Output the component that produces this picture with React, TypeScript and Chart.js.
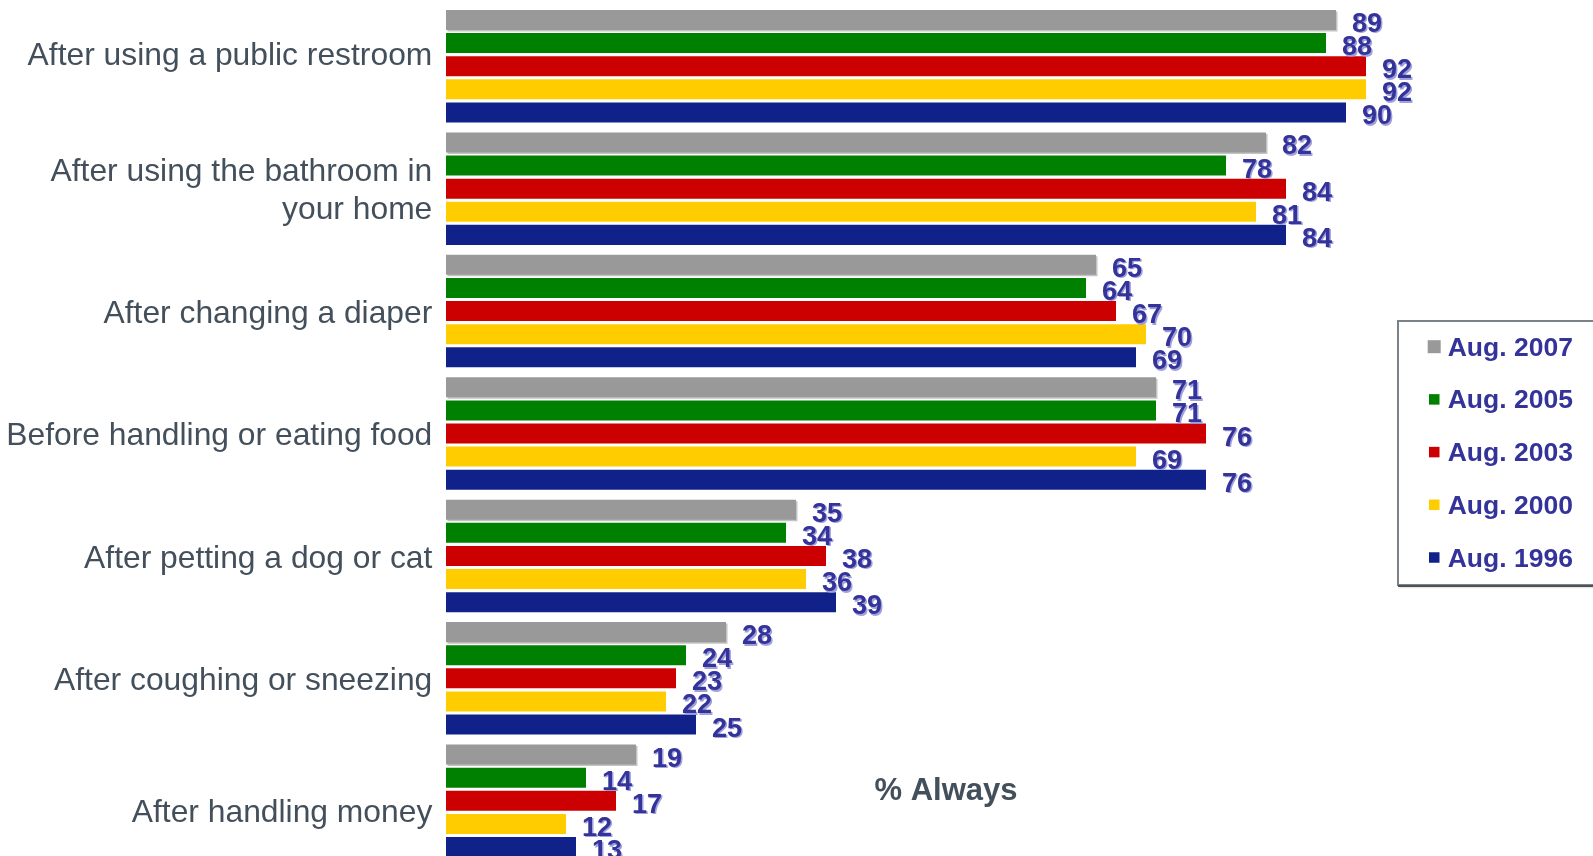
import React, { useEffect, useRef } from "react";
import { Chart, registerables } from "chart.js";

Chart.register(...registerables);

const categories: (string | string[])[] = [
  "After using a public restroom",
  ["After using the bathroom in", "your home"],
  "After changing a diaper",
  "Before handling or eating food",
  "After petting a dog or cat",
  "After coughing or sneezing",
  "After handling money",
];

const seriesNames = ["Aug. 2007", "Aug. 2005", "Aug. 2003", "Aug. 2000", "Aug. 1996"];
const seriesColors = ["#999999", "#008000", "#CC0000", "#FFCC00", "#10228A"];

const aug2007 = [89, 82, 65, 71, 35, 28, 19];
const aug2005 = [88, 78, 64, 71, 34, 24, 14];
const aug2003 = [92, 84, 67, 76, 38, 23, 17];
const aug2000 = [92, 81, 70, 69, 36, 22, 12];
const aug1996 = [90, 84, 69, 76, 39, 25, 13];

const seriesValues = [aug2007, aug2005, aug2003, aug2000, aug1996];

const axisTitle = "% Always";

const labelColor = "#333399";
const textGray = "#434f5b";
const FONT = "'Liberation Sans', Arial, sans-serif";
const TICK_SIZE = 31.8;

const grayShadowPlugin = {
  id: "grayShadow",
  beforeDatasetDraw(chart: any, args: any) {
    if (args.index === 0) {
      const ctx = chart.ctx;
      ctx.save();
      ctx.shadowColor = "rgba(195,195,195,1)";
      ctx.shadowOffsetX = 1.5;
      ctx.shadowOffsetY = 1.5;
      ctx.shadowBlur = 0;
    }
  },
  afterDatasetDraw(chart: any, args: any) {
    if (args.index === 0) chart.ctx.restore();
  },
};

const valueLabelPlugin = {
  id: "valueLabels",
  afterDatasetsDraw(chart: any) {
    const ctx = chart.ctx;
    ctx.save();
    ctx.font = `bold 27px ${FONT}`;
    ctx.textAlign = "left";
    ctx.textBaseline = "alphabetic";
    chart.data.datasets.forEach((ds: any, di: number) => {
      const meta = chart.getDatasetMeta(di);
      meta.data.forEach((bar: any, i: number) => {
        ctx.shadowColor = "rgba(150,150,215,0.9)";
        ctx.shadowOffsetX = 1.5;
        ctx.shadowOffsetY = 1.5;
        ctx.shadowBlur = 0.5;
        ctx.fillStyle = labelColor;
        ctx.fillText(String(ds.data[i]), bar.x + 16, bar.y + 12);
      });
    });
    ctx.restore();
  },
};

const extrasPlugin = {
  id: "extras",
  afterDraw(chart: any) {
    const ctx = chart.ctx;
    const xs = chart.scales.x;
    ctx.save();
    ctx.font = `bold 31px ${FONT}`;
    ctx.fillStyle = textGray;
    ctx.textAlign = "center";
    ctx.textBaseline = "alphabetic";
    ctx.fillText(axisTitle, xs.getPixelForValue(50), 800);

    // legend box
    const bx = 1398;
    const by = 321;
    const bw = 260;
    const bh = 264;
    ctx.fillStyle = "#ffffff";
    ctx.shadowColor = "rgba(0,0,0,0.35)";
    ctx.shadowOffsetX = 1;
    ctx.shadowOffsetY = 2;
    ctx.shadowBlur = 2;
    ctx.fillRect(bx, by, bw, bh);
    ctx.shadowColor = "transparent";
    ctx.strokeStyle = "#7a828a";
    ctx.lineWidth = 2;
    ctx.strokeRect(bx, by, bw, bh);
    ctx.strokeStyle = "#4a525a";
    ctx.lineWidth = 2;
    ctx.beginPath();
    ctx.moveTo(bx, by + bh + 1);
    ctx.lineTo(bx + bw, by + bh + 1);
    ctx.stroke();

    ctx.font = `bold 26.5px ${FONT}`;
    ctx.textAlign = "left";
    ctx.textBaseline = "alphabetic";
    chart.data.datasets.forEach((ds: any, i: number) => {
      const y = 346.7 + i * 52.7;
      const sz = i === 0 ? 13 : 10.5;
      const sx = i === 0 ? 1427.7 : 1429;
      ctx.fillStyle = ds.backgroundColor;
      ctx.fillRect(sx, y - sz / 2, sz, sz);
      ctx.fillStyle = labelColor;
      ctx.fillText(ds.label, 1447.7, y + 9);
    });
    ctx.restore();
  },
};

export default function App() {
  const ref = useRef<HTMLCanvasElement | null>(null);
  useEffect(() => {
    if (!ref.current) return;
    const W = 1593;
    const canvas = ref.current;
    const lastIdx = categories.length - 1;
    const chart = new Chart(canvas, {
      type: "bar",
      data: {
        labels: categories,
        datasets: seriesNames.map((name, i) => ({
          label: name,
          data: seriesValues[i],
          backgroundColor: seriesColors[i],
          borderWidth: 0,
          categoryPercentage: 0.944,
          barPercentage: 0.866,
        })),
      },
      options: {
        indexAxis: "y",
        responsive: false,
        maintainAspectRatio: false,
        animation: false,
        layout: { padding: { top: 5, bottom: 0, left: 0, right: W - 1446 } },
        plugins: {
          legend: { display: false },
          tooltip: { enabled: false },
          title: { display: false },
        },
        scales: {
          x: {
            display: false,
            min: 0,
            max: 100,
          },
          y: {
            afterFit: (sc: any) => {
              sc.width = 446;
              sc.paddingTop = 0;
              sc.paddingBottom = 0;
            },
            border: { display: false },
            grid: { display: false, drawTicks: false },
            ticks: {
              padding: 13.7,
              labelOffset: 3,
              color: textGray,
              callback: (_v: any, i: number) => {
                const c = categories[i];
                if (i === 0) return [c as string, ""];
                if (i === lastIdx) return ["", c as string];
                return c;
              },
              font: (ctx: any) => ({
                family: FONT,
                size: TICK_SIZE,
                lineHeight: ctx.index === 0 ? 26 / TICK_SIZE : ctx.index === lastIdx ? 18 / TICK_SIZE : 1.2,
              }),
            },
          },
        },
      },
      plugins: [grayShadowPlugin, valueLabelPlugin, extrasPlugin],
    });
    return () => chart.destroy();
  }, []);
  return (
    <div style={{ position: "fixed", left: 0, top: 0, width: 1593, height: 856, background: "#fff", overflow: "hidden" }}>
      <canvas ref={ref} width={1593} height={862} style={{ display: "block", width: 1593, height: 862 }} />
    </div>
  );
}
